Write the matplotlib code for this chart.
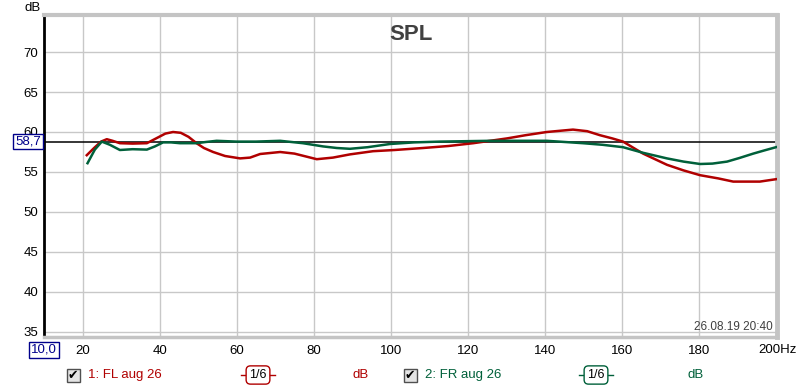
import matplotlib
matplotlib.use('Agg')
import matplotlib.pyplot as plt
from matplotlib.lines import Line2D
from matplotlib.patches import Rectangle

plt.rcParams['font.family'] = ['Liberation Sans', 'DejaVu Sans']

# ---- data ----
fl_freq = [21.1, 23.0, 24.8, 26.3, 27.8, 29.7, 33.0, 36.7, 39.5, 41.5, 43.5, 45.5, 47.5, 49.6,
           51.5, 53.9, 57.0, 60.9, 63.5, 66.1, 71.3, 75.0, 80.8, 85.0, 89.4, 95.4, 101.0,
           108.4, 115.0, 121.4, 130.2, 135.0, 140.5, 147.3, 151.0, 154.3, 157.5, 160.3, 165.5,
           171.7, 176.0, 180.3, 185.0, 188.9, 195.8, 200.0]
fl_db = [57.1, 58.0, 58.8, 59.1, 58.9, 58.6, 58.55, 58.6, 59.3, 59.8, 60.0, 59.9, 59.4, 58.6,
         58.0, 57.5, 57.0, 56.7, 56.8, 57.25, 57.5, 57.3, 56.6, 56.8, 57.2, 57.6, 57.75,
         58.0, 58.25, 58.6, 59.2, 59.6, 60.0, 60.3, 60.1, 59.6, 59.2, 58.8, 57.3,
         55.9, 55.2, 54.6, 54.2, 53.8, 53.8, 54.1]

fr_freq = [21.3, 23.2, 25.0, 27.1, 29.7, 33.0, 36.7, 38.8, 40.9, 43.0, 45.3, 49.6, 52.0, 54.8,
           60.0, 65.0, 71.3, 77.2, 82.4, 86.0, 89.4, 94.0, 99.8, 106.0, 112.8, 125.8, 140.5,
           149.9, 155.0, 160.3, 165.5, 171.7, 176.0, 180.3, 183.5, 187.3, 190.5, 194.1, 197.0, 200.0]
fr_db = [56.1, 57.8, 58.8, 58.4, 57.75, 57.85, 57.8, 58.2, 58.7, 58.7, 58.6, 58.6, 58.75, 58.9,
         58.8, 58.8, 58.9, 58.6, 58.2, 58.0, 57.9, 58.1, 58.5, 58.7, 58.8, 58.9, 58.9,
         58.6, 58.4, 58.1, 57.4, 56.7, 56.3, 56.0, 56.05, 56.3, 56.75, 57.3, 57.7, 58.1]

x_ticks = [20, 40, 60, 80, 100, 120, 140, 160, 180]
y_ticks = [35, 40, 45, 50, 55, 60, 65, 70]
ref_level = 58.7
x_start = 10.0

red = '#b00000'
green = '#00603a'
navy = '#00008b'

W, H = 800, 389
L, R, T, B = 44, 777, 15, 337

fig = plt.figure(figsize=(W / 100, H / 100), dpi=100)
ax = fig.add_axes([L / W, 1 - B / H, (R - L) / W, (B - T) / H])
ax.set_xlim(10, 200.26)
ax.set_ylim(34.375, 74.625)

ax.set_xticks(x_ticks)
ax.set_xticklabels([str(v) for v in x_ticks])
ax.set_yticks(y_ticks)
ax.set_yticklabels([str(v) for v in y_ticks])
ax.tick_params(length=0, labelsize=9.5, colors='black')
ax.tick_params(axis='y', pad=4)
ax.tick_params(axis='x', pad=6)
ax.grid(True, color='#c8c8c8', lw=1, zorder=0)
ax.set_axisbelow(True)

for s in ['top', 'right', 'bottom']:
    ax.spines[s].set_color('#c4c4c4')
ax.spines['top'].set_linewidth(3)
ax.spines['right'].set_linewidth(3.5)
ax.spines['bottom'].set_linewidth(2.5)
ax.spines['left'].set_color('black')
ax.spines['left'].set_linewidth(2)

ax.axhline(ref_level, color='black', lw=1.1, zorder=2)
ax.plot(fl_freq, fl_db, color=red, lw=1.8, zorder=3, solid_joinstyle='round')
ax.plot(fr_freq, fr_db, color=green, lw=1.8, zorder=4, solid_joinstyle='round')

# "200Hz" label
ax.annotate('200Hz', xy=(200, 0), xycoords=('data', 'axes fraction'),
            xytext=(21, -13), textcoords='offset pixels', ha='right', va='center', fontsize=9.5)

fig.text(411 / W, 1 - 35 / H, 'SPL', ha='center', va='center',
         fontsize=16, fontweight='bold', color='#404040')

fig.text(33 / W, 1 - 8 / H, 'dB', ha='center', va='center', fontsize=9.5)
fig.text(773 / W, 1 - 327 / H, '26.08.19 20:40', ha='right', va='center', fontsize=8.5, color='#404040')

# boxed blue labels
fig.text(28 / W, 1 - 141.5 / H, f'{ref_level:.1f}'.replace('.', ','), ha='center', va='center',
         fontsize=9.5, color=navy, zorder=5,
         bbox=dict(boxstyle='square,pad=0.15', fc='white', ec=navy, lw=1))
fig.text(44 / W, 1 - 350 / H, f'{x_start:.1f}'.replace('.', ','), ha='center', va='center',
         fontsize=9.5, color=navy, zorder=5,
         bbox=dict(boxstyle='square,pad=0.15', fc='white', ec=navy, lw=1))

# legend row
ly = 1 - 375 / H

def checkbox(xc):
    s = 13
    fig.patches.append(Rectangle(((xc - s / 2) / W, ly - (s / 2) / H), s / W, s / H,
                                 transform=fig.transFigure, fc='#e4e4e4', ec='#505050', lw=1))
    fig.text(xc / W, ly, '\u2714', ha='center', va='center', fontsize=9, color='black',
             family='DejaVu Sans')

def smooth_box(xc, color):
    fig.add_artist(Line2D([(xc - 17) / W, (xc + 17) / W], [ly, ly], transform=fig.transFigure,
                          color=color, lw=1, zorder=1))
    fig.text(xc / W, ly, '1/6', ha='center', va='center', fontsize=9, color='black', zorder=2,
             bbox=dict(boxstyle='round,pad=0.25,rounding_size=0.35', fc='white', ec=color, lw=1))

checkbox(73)
fig.text(88 / W, ly, '1: FL aug 26', ha='left', va='center', fontsize=9.5, color=red)
smooth_box(258, red)
fig.text(361 / W, ly, 'dB', ha='center', va='center', fontsize=9.5, color=red)

checkbox(410)
fig.text(425 / W, ly, '2: FR aug 26', ha='left', va='center', fontsize=9.5, color=green)
smooth_box(596, green)
fig.text(696 / W, ly, 'dB', ha='center', va='center', fontsize=9.5, color=green)

fig.savefig('out.png', dpi=100, facecolor='white')
